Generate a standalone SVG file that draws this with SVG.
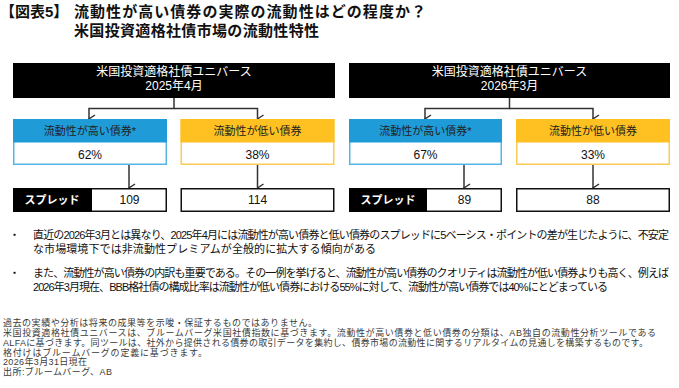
<svg xmlns="http://www.w3.org/2000/svg" width="679" height="388" viewBox="0 0 679 388">
<defs>
<style>
text{font-family:"Liberation Sans","Noto Sans CJK JP",sans-serif;}
.title{font-size:15px;font-weight:bold;fill:#111;}
.hd{font-size:12px;fill:#fff;text-anchor:middle;}
.cat{font-size:11px;fill:#222;text-anchor:middle;}
.val{font-size:12px;fill:#111;text-anchor:middle;}
.sp{font-size:11px;fill:#fff;font-weight:bold;text-anchor:middle;}
.body{font-size:11px;fill:#111;}
.fn{font-size:9px;fill:#3a3a3a;}
.blk{fill:#000;}
.bluebox{fill:#fff;stroke:#56b4e6;stroke-width:1.5;}
.bluehd{fill:#1f9bd7;}
.yelbox{fill:#fff;stroke:#fdcb55;stroke-width:1.5;}
.yelhd{fill:#ffc021;}
.wbox{fill:#fff;stroke:#111;stroke-width:1.5;}
.conn{fill:none;stroke:#333;stroke-width:1.5;}
</style>
<marker id="arr" viewBox="0 0 10 10" refX="5" refY="9" markerWidth="10" markerHeight="10" markerUnits="userSpaceOnUse" orient="auto-start-reverse">
<path d="M1,3 L5,9 L9,3" fill="none" stroke="#333" stroke-width="1.5"/>
</marker>
</defs>
<rect width="679" height="388" fill="#fff"/>

<g id="title">
<text class="title" x="0" y="17">【図表5】</text>
<text class="title" x="74" y="17" textLength="352" lengthAdjust="spacing">流動性が高い債券の実際の流動性はどの程度か？</text>
<text class="title" x="74" y="35.5" textLength="245" lengthAdjust="spacing">米国投資適格社債市場の流動性特性</text>
</g>

<g id="connectors">
<path class="conn" d="M174,98 V108.5 H89 V119" marker-end="url(#arr)"/>
<path class="conn" d="M174,108.5 H257.5 V119" marker-end="url(#arr)"/>
<path class="conn" d="M129,165 V188" marker-end="url(#arr)"/>
<path class="conn" d="M257.5,165 V188" marker-end="url(#arr)"/>
<path class="conn" d="M509.5,98 V108.5 H425 V119" marker-end="url(#arr)"/>
<path class="conn" d="M509.5,108.5 H593 V119" marker-end="url(#arr)"/>
<path class="conn" d="M464,165 V188" marker-end="url(#arr)"/>
<path class="conn" d="M593,165 V188" marker-end="url(#arr)"/>
</g>

<g id="universe-2025">
<rect class="blk" x="13" y="63" width="322" height="35"/>
<text class="hd" x="174" y="76">米国投資適格社債ユニバース</text>
<text class="hd" x="174" y="89.5">2025年4月</text>
</g>
<g id="high-2025">
<rect class="bluebox" x="13.75" y="119.75" width="152.5" height="44.5"/>
<rect class="bluehd" x="13" y="119" width="154" height="23.5"/>
<text class="cat" x="90" y="135">流動性が高い債券*</text>
<text class="val" x="90" y="158.5">62%</text>
</g>
<g id="low-2025">
<rect class="yelbox" x="181.25" y="119.75" width="152.5" height="44.5"/>
<rect class="yelhd" x="180.5" y="119" width="154" height="23.5"/>
<text class="cat" x="257.5" y="135">流動性が低い債券</text>
<text class="val" x="257.5" y="158.5">38%</text>
</g>
<g id="spread-high-2025">
<rect class="wbox" x="13.75" y="188.75" width="152.5" height="22.5"/>
<rect class="blk" x="13" y="188" width="79" height="24"/>
<text class="sp" x="52" y="203.5">スプレッド</text>
<text class="val" x="129.5" y="204">109</text>
</g>
<g id="spread-low-2025">
<rect class="wbox" x="181.25" y="188.75" width="152.5" height="22.5"/>
<text class="val" x="257.5" y="204">114</text>
</g>

<g id="universe-2026">
<rect class="blk" x="349" y="63" width="321" height="35"/>
<text class="hd" x="509.5" y="76">米国投資適格社債ユニバース</text>
<text class="hd" x="509.5" y="89.5">2026年3月</text>
</g>
<g id="high-2026">
<rect class="bluebox" x="349.75" y="119.75" width="151.5" height="44.5"/>
<rect class="bluehd" x="349" y="119" width="153" height="23.5"/>
<text class="cat" x="425.5" y="135">流動性が高い債券*</text>
<text class="val" x="425.5" y="158.5">67%</text>
</g>
<g id="low-2026">
<rect class="yelbox" x="516.75" y="119.75" width="152.5" height="44.5"/>
<rect class="yelhd" x="516" y="119" width="154" height="23.5"/>
<text class="cat" x="593" y="135">流動性が低い債券</text>
<text class="val" x="593" y="158.5">33%</text>
</g>
<g id="spread-high-2026">
<rect class="wbox" x="349.75" y="188.75" width="151.5" height="22.5"/>
<rect class="blk" x="349" y="188" width="78" height="24"/>
<text class="sp" x="388" y="203.5">スプレッド</text>
<text class="val" x="464.5" y="204">89</text>
</g>
<g id="spread-low-2026">
<rect class="wbox" x="516.75" y="188.75" width="152.5" height="22.5"/>
<text class="val" x="593" y="204">88</text>
</g>

<g id="bullets">
<text class="body" x="9" y="239">・</text>
<text class="body" x="33" y="239" textLength="636" lengthAdjust="spacing">直近の2026年3月とは異なり、2025年4月には流動性が高い債券と低い債券のスプレッドに5ベーシス・ポイントの差が生じたように、不安定</text>
<text class="body" x="33" y="253" textLength="343" lengthAdjust="spacing">な市場環境下では非流動性プレミアムが全般的に拡大する傾向がある</text>
<text class="body" x="9" y="277">・</text>
<text class="body" x="33" y="277" textLength="636" lengthAdjust="spacing">また、流動性が高い債券の内訳も重要である。その一例を挙げると、流動性が高い債券のクオリティは流動性が低い債券よりも高く、例えば</text>
<text class="body" x="33" y="291" textLength="575" lengthAdjust="spacing">2026年3月現在、BBB格社債の構成比率は流動性が低い債券における55%に対して、流動性が高い債券では40%にとどまっている</text>
</g>

<g id="footnotes">
<text class="fn" x="3" y="326" textLength="314" lengthAdjust="spacing">過去の実績や分析は将来の成果等を示唆・保証するものではありません。</text>
<text class="fn" x="3" y="336" textLength="653" lengthAdjust="spacing">米国投資適格社債ユニバースは、ブルームバーグ米国社債指数に基づきます。流動性が高い債券と低い債券の分類は、AB独自の流動性分析ツールである</text>
<text class="fn" x="3" y="346" textLength="645" lengthAdjust="spacing">ALFAに基づきます。同ツールは、社外から提供される債券の取引データを集約し、債券市場の流動性に関するリアルタイムの見通しを構築するものです。</text>
<text class="fn" x="3" y="355.7" textLength="204" lengthAdjust="spacing">格付けはブルームバーグの定義に基づきます。</text>
<text class="fn" x="3" y="365.3" textLength="84" lengthAdjust="spacing">2026年3月31日現在</text>
<text class="fn" x="3" y="375" textLength="109" lengthAdjust="spacing">出所:ブルームバーグ、AB</text>
</g>
</svg>
